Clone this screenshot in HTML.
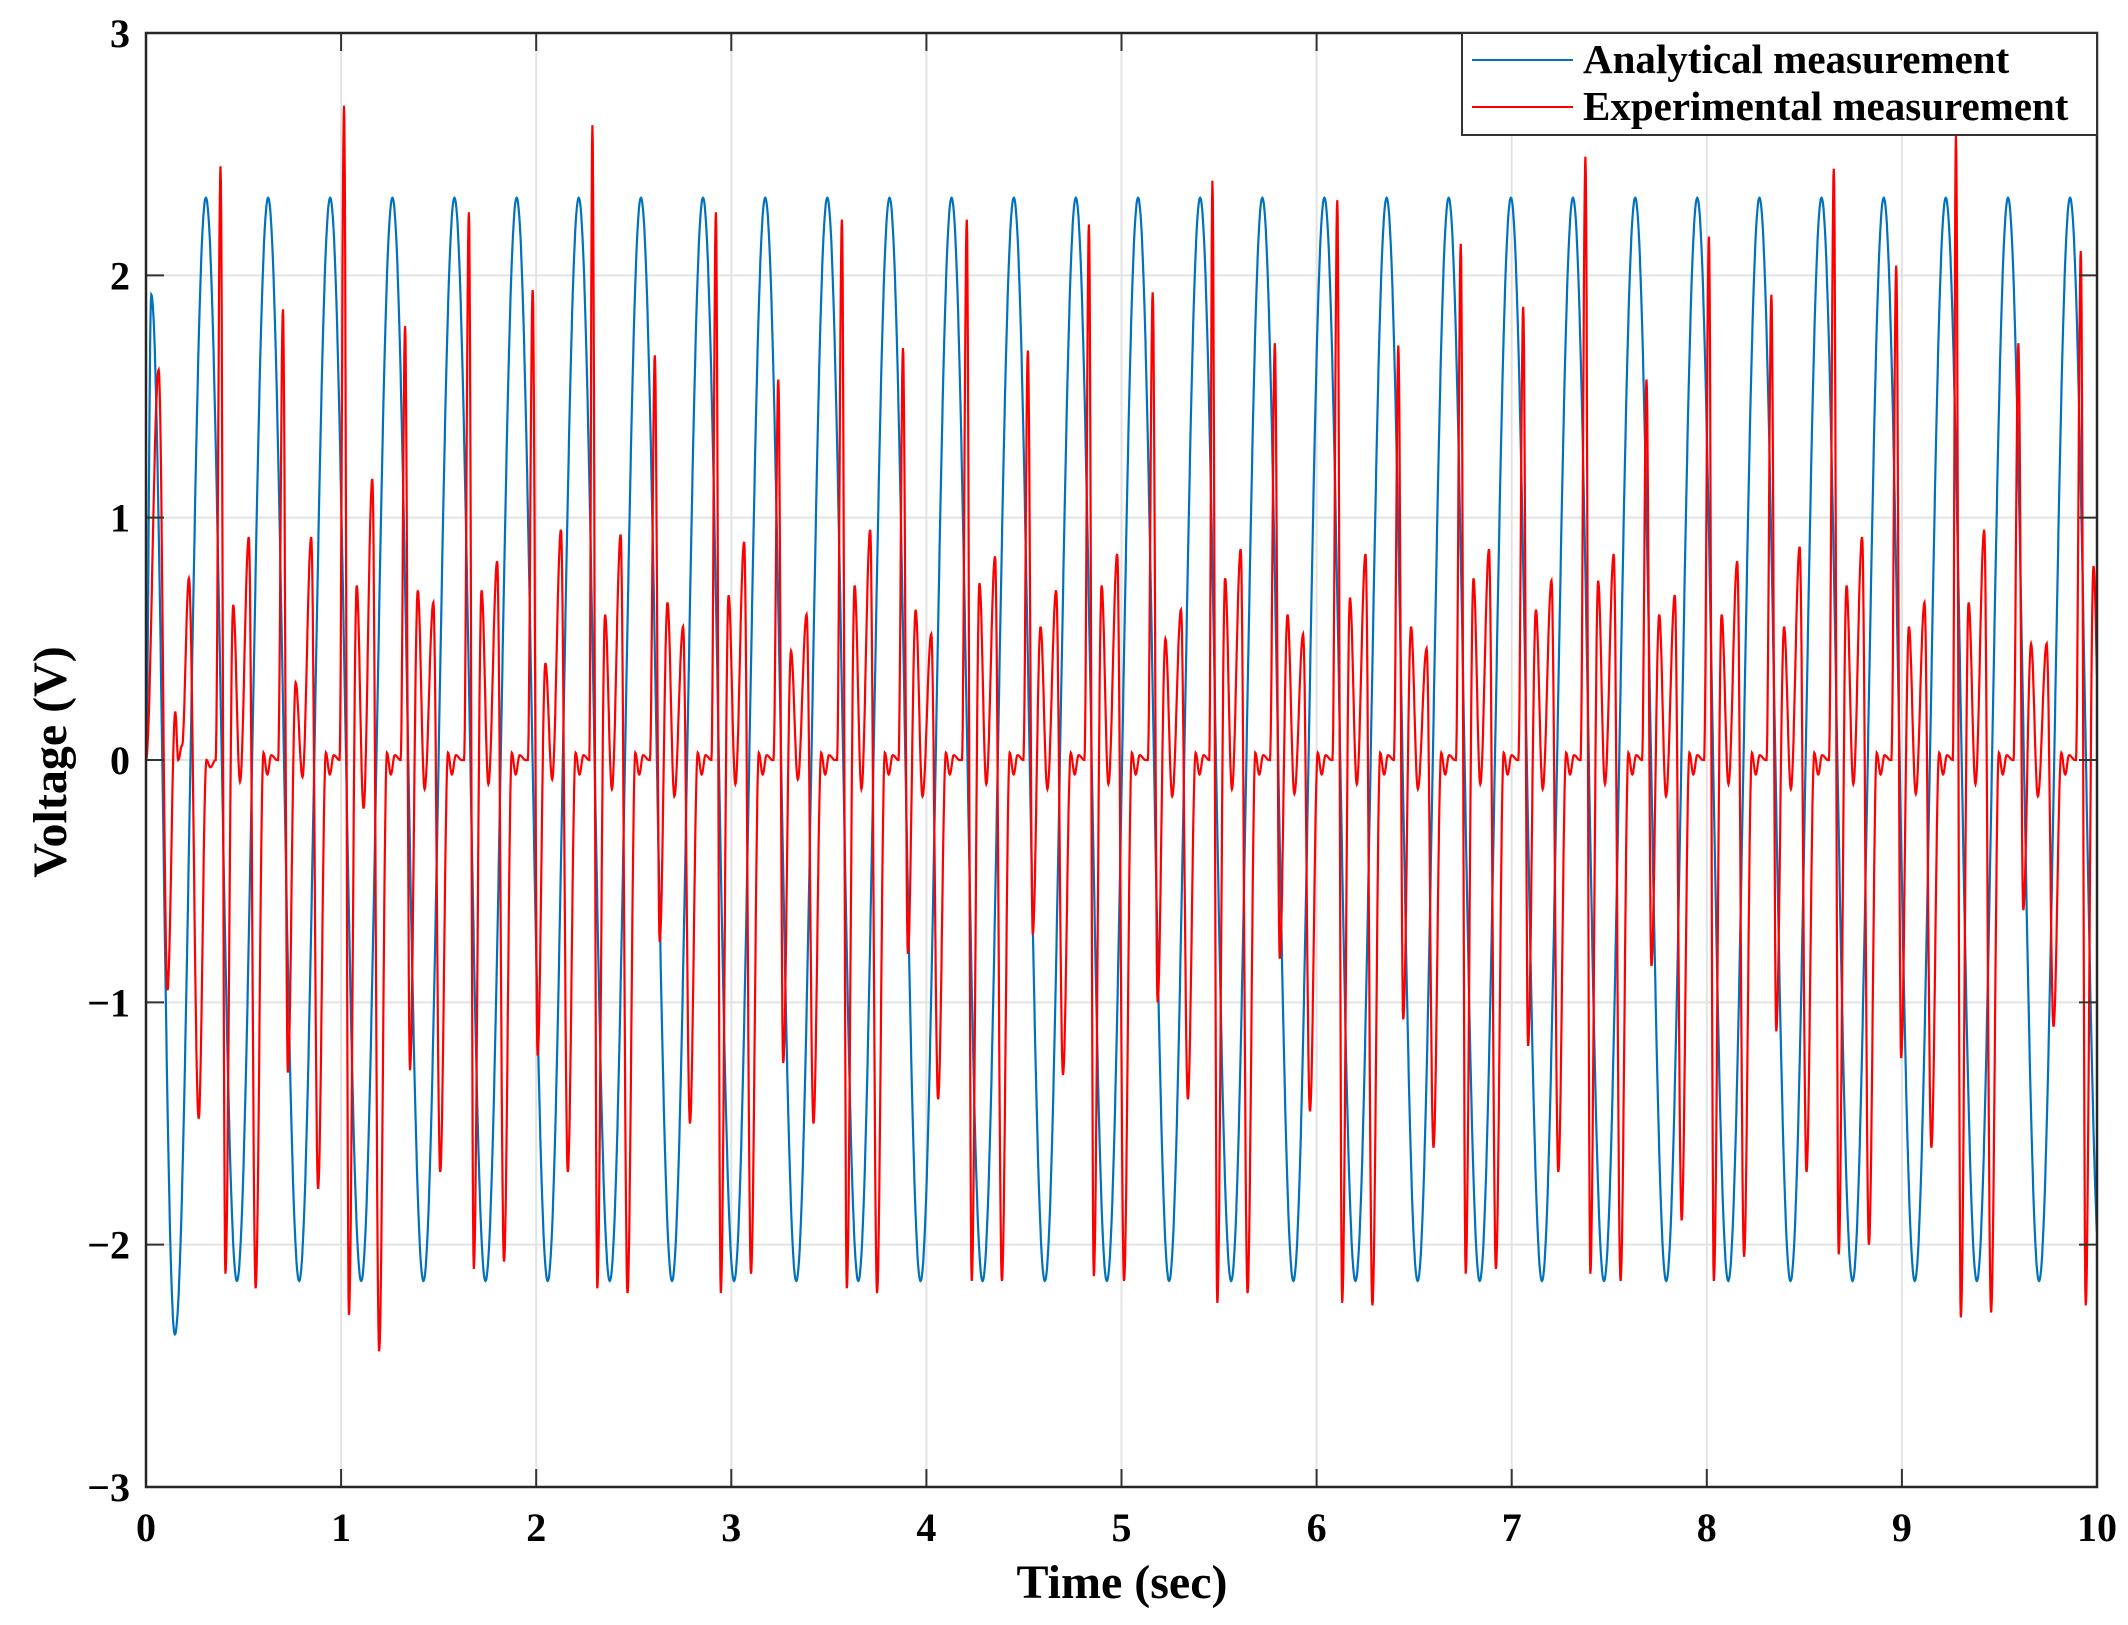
<!DOCTYPE html>
<html><head><meta charset="utf-8">
<style>
html,body{margin:0;padding:0;background:#fff;}
svg{display:block;}
text{font-family:"Liberation Serif",serif;font-weight:bold;fill:#000;}
</style></head>
<body>
<svg id="chart" width="2128" height="1625" viewBox="0 0 2128 1625" xmlns="http://www.w3.org/2000/svg">
<rect x="0" y="0" width="2128" height="1625" fill="#fff"/>
<g id="grid"></g>
<g id="series"></g>
<g id="axes"></g>
<text x="1122" y="1598" font-size="48" text-anchor="middle">Time (sec)</text>
<text transform="translate(66,762) rotate(-90)" font-size="48" text-anchor="middle">Voltage (V)</text>
<g>
<rect x="1462" y="33" width="635" height="102" fill="#fff" stroke="#333" stroke-width="2"/>
<line x1="1472" y1="60" x2="1573" y2="60" stroke="#0072BD" stroke-width="2"/>
<text x="1583" y="73" font-size="41">Analytical measurement</text>
<line x1="1472" y1="107" x2="1573" y2="107" stroke="#FF0000" stroke-width="2"/>
<text x="1583" y="120" font-size="41">Experimental measurement</text>
</g>
</svg>
<script>
// ---- data ----
const xTicks = [0,1,2,3,4,5,6,7,8,9,10];
const yTicks = [-3,-2,-1,0,1,2,3];
const yTickLabels = ["\u22123","\u22122","\u22121","0","1","2","3"];
// Analytical: extrema times and values
const blueT = [0,0.027,0.148,0.307,0.466,0.626,0.785,0.944,1.103,1.263,1.422,1.581,1.740,1.900,2.059,2.218,2.377,2.537,2.696,2.855,3.014,3.174,3.333,3.492,3.651,3.811,3.970,4.129,4.288,4.448,4.607,4.766,4.925,5.085,5.244,5.403,5.562,5.722,5.881,6.040,6.199,6.359,6.518,6.677,6.836,6.996,7.155,7.314,7.473,7.633,7.792,7.951,8.110,8.270,8.429,8.588,8.747,8.907,9.066,9.225,9.384,9.544,9.703,9.862,10.021];
const blueV = [0,1.92,-2.37,2.32,-2.15,2.32,-2.15,2.32,-2.15,2.32,-2.15,2.32,-2.15,2.32,-2.15,2.32,-2.15,2.32,-2.15,2.32,-2.15,2.32,-2.15,2.32,-2.15,2.32,-2.15,2.32,-2.15,2.32,-2.15,2.32,-2.15,2.32,-2.15,2.32,-2.15,2.32,-2.15,2.32,-2.15,2.32,-2.15,2.32,-2.15,2.32,-2.15,2.32,-2.15,2.32,-2.15,2.32,-2.15,2.32,-2.15,2.32,-2.15,2.32,-2.15,2.32,-2.15,2.32,-2.15,2.32,-2.15];
// Experimental: start transient
const redStartT = [0,0.065,0.11,0.15,0.165,0.185,0.22,0.27,0.31,0.33,0.357];
const redStartV = [0,1.61,-0.95,0.2,0.0,0.06,0.75,-1.48,0.0,-0.03,0];
// Experimental: per-cycle features
const spikeTimes = [0.382,0.702,1.015,1.328,1.655,1.982,2.288,2.608,2.921,3.241,3.567,3.880,4.207,4.520,4.833,5.160,5.466,5.786,6.106,6.419,6.739,7.059,7.378,7.691,8.011,8.331,8.651,8.971,9.277,9.597,9.917];
const spikeUp = [2.45,1.86,2.70,1.79,2.26,1.94,2.62,1.67,2.26,1.57,2.23,1.70,2.23,1.69,2.21,1.93,2.39,1.72,2.31,1.71,2.13,1.87,2.49,1.57,2.16,1.92,2.44,2.04,2.58,1.72,2.10];
const spikeDown = [-2.12,-1.29,-2.29,-1.28,-2.10,-1.22,-2.18,-0.75,-2.20,-1.25,-2.18,-0.80,-2.15,-0.72,-2.13,-1.00,-2.24,-0.82,-2.24,-1.07,-2.12,-1.18,-2.12,-0.85,-2.15,-1.12,-2.04,-1.23,-2.30,-0.62,-2.25];
const bump1 = [0.64,0.32,0.72,0.70,0.70,0.40,0.60,0.65,0.68,0.45,0.72,0.62,0.73,0.55,0.72,0.50,0.75,0.60,0.67,0.55,0.75,0.62,0.74,0.60,0.60,0.55,0.72,0.55,0.65,0.48,0.80];
const dip1 = [-0.09,-0.07,-0.20,-0.12,-0.10,-0.08,-0.12,-0.15,-0.10,-0.08,-0.12,-0.15,-0.10,-0.12,-0.10,-0.15,-0.12,-0.14,-0.10,-0.12,-0.10,-0.12,-0.10,-0.15,-0.10,-0.12,-0.10,-0.14,-0.10,-0.15,-0.10];
const bump2 = [0.92,0.92,1.16,0.65,0.82,0.95,0.93,0.55,0.90,0.60,0.95,0.52,0.84,0.70,0.85,0.62,0.87,0.52,0.85,0.46,0.87,0.74,0.85,0.68,0.82,0.88,0.92,0.65,0.95,0.48,0.80];
const dip2 = [-2.18,-1.77,-2.44,-1.70,-2.07,-1.70,-2.20,-1.50,-2.12,-1.50,-2.20,-1.40,-2.15,-1.30,-2.15,-1.40,-2.20,-1.45,-2.25,-1.60,-2.10,-1.70,-2.15,-1.90,-2.05,-1.70,-2.00,-1.60,-2.28,-1.10,-2.20];

// ---- layout ----
const L=146, R=2097, T=33, B=1487;
const xS = t => L + (t-0)/(10-0)*(R-L);
const yS = v => B - (v+3)/6*(B-T);
const NS='http://www.w3.org/2000/svg';
function mk(tag, attrs, parent){const e=document.createElementNS(NS,tag);for(const k in attrs)e.setAttribute(k,attrs[k]);parent.appendChild(e);return e;}
const grid=document.getElementById('grid'), axes=document.getElementById('axes'), series=document.getElementById('series');

xTicks.forEach((t,i)=>{
  const x=xS(t);
  if(i>0&&i<xTicks.length-1){const g=mk('line',{x1:x,y1:T,x2:x,y2:B,stroke:'#e3e3e3','stroke-width':2},grid);
  
  }
  const tk=mk('line',{x1:x,y1:B,x2:x,y2:B-18,stroke:'#333','stroke-width':2},axes);
  
  
  const tk2=mk('line',{x1:x,y1:T,x2:x,y2:T+18,stroke:'#333','stroke-width':2},axes);
  
  
  const lb=mk('text',{x:x,y:1541,'font-size':40,'text-anchor':'middle'},axes);
  lb.textContent=String(t);
  
  
});
yTicks.forEach((v,i)=>{
  const y=yS(v);
  if(i>0&&i<yTicks.length-1){const g=mk('line',{x1:L,y1:y,x2:R,y2:y,stroke:'#e3e3e3','stroke-width':2},grid);
  
  }
  const tk=mk('line',{x1:L,y1:y,x2:L+18,y2:y,stroke:'#333','stroke-width':2},axes);
  
  
  const tk2=mk('line',{x1:R,y1:y,x2:R-18,y2:y,stroke:'#333','stroke-width':2},axes);
  
  
  const lb=mk('text',{x:L-16,y:y+14,'font-size':40,'text-anchor':'end'},axes);
  lb.textContent=yTickLabels[i];
  
  
});
const frame=mk('rect',{x:L,y:T,width:R-L,height:B-T,fill:'none',stroke:'#262626','stroke-width':2.5},axes);



// smooth half-cosine interpolation between key points
function curvePoints(ts,vs){
  const pts=[];
  for(let i=0;i<ts.length-1;i++){
    const t0=ts[i],t1=ts[i+1],v0=vs[i],v1=vs[i+1];
    const n=Math.max(2,Math.ceil((t1-t0)/0.002));
    for(let k=0;k<n;k++){
      const u=k/n,t=t0+(t1-t0)*u;
      if(t>10)break;
      const v=v0+(v1-v0)*(1-Math.cos(Math.PI*u))/2;
      pts.push(xS(t).toFixed(1)+','+yS(v).toFixed(1));
    }
    if(t1>10)break;
  }
  return pts.join(' ');
}

// red key points from per-cycle features
const offs=[-0.025,0,0.025,0.065,0.10,0.145,0.18,0.22,0.24,0.26,0.29];
const rT=redStartT.slice(), rV=redStartV.slice();
spikeTimes.forEach((ts,i)=>{
  const vals=[0,spikeUp[i],spikeDown[i],bump1[i],dip1[i],bump2[i],dip2[i],0.03,-0.06,0.02,0];
  offs.forEach((o,j)=>{const t=ts+o; if(t>rT[rT.length-1]){rT.push(t);rV.push(vals[j]);}});
});

const clip=mk('clipPath',{id:'plotclip'},series);
mk('rect',{x:L,y:T,width:R-L,height:B-T},clip);
const blue=mk('polyline',{points:curvePoints(blueT,blueV),fill:'none',stroke:'#0072BD','stroke-width':2.2,'clip-path':'url(#plotclip)'},series);


const red=mk('polyline',{points:curvePoints(rT,rV),fill:'none',stroke:'#FF0000','stroke-width':2.2,'clip-path':'url(#plotclip)'},series);


</script>
</body></html>
